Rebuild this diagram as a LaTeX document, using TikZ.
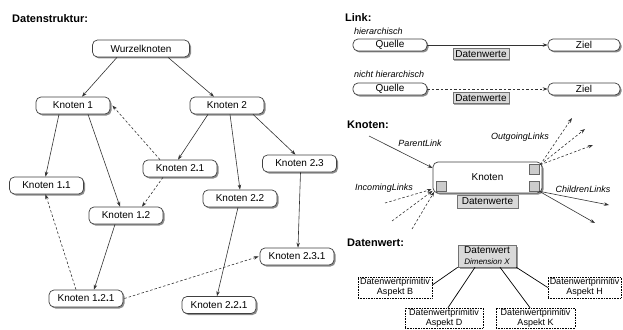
\documentclass[tikz,border=0pt]{standalone}
\usepackage{fontspec}
\setmainfont{Liberation Sans}
\usetikzlibrary{shadows,arrows.meta}
\newcommand\kdot{\textbf{.}}
\begin{document}
\begin{tikzpicture}[x=1pt,y=-1pt,
  kn/.style={draw=black!75, line width=0.7pt, rounded corners=5pt, fill=white, inner sep=0pt,
    minimum width=74pt, minimum height=17pt, font=\fontsize{10}{12}\selectfont,
    drop shadow={shadow xshift=1.5pt, shadow yshift=-1.5pt, fill=black!45, opacity=1}},
  dwbox/.style={draw=black!55, line width=0.6pt, fill=black!15, inner sep=0pt, minimum width=56pt,
    minimum height=11pt, font=\fontsize{10}{12}\selectfont,
    drop shadow={shadow xshift=1pt, shadow yshift=-1pt, fill=black!35, opacity=1}},
  arr/.style={draw=black!80, line width=0.6pt, -{Stealth[length=5pt,width=3.5pt]}},
  dsh/.style={arr, dash pattern=on 2.5pt off 2pt},
  title/.style={font=\bfseries\fontsize{11}{13}\selectfont, anchor=west, inner sep=0pt},
  lab/.style={font=\itshape\fontsize{9}{11}\selectfont, inner sep=0pt},
  sq/.style={draw=black!60, line width=0.6pt, fill=black!20, minimum size=10pt, inner sep=0pt},
  prim/.style={draw, line width=0.6pt, densely dotted, inner sep=0pt, align=center,
    font=\fontsize{9}{9.8}\selectfont},
  pline/.style={draw=black, line width=0.7pt}
]
\useasboundingbox (0,0) rectangle (623,329);

% ---------- Datenstruktur ----------
\node[title] (t1) at (12,19) {Datenstruktur:};
\node[kn, minimum width=97pt] (w) at (141,48.5) {Wurzelknoten};
\node[kn] (k1) at (73,105.5) {Knoten 1};
\node[kn] (k2) at (227,105.5) {Knoten 2};
\node[kn] (k21) at (180,168.5) {Knoten 2\kdot1};
\node[kn] (k23) at (299.5,163.5) {Knoten 2\kdot3};
\node[kn] (k11) at (46.5,185.5) {Knoten 1\kdot1};
\node[kn] (k12) at (126,215.5) {Knoten 1\kdot2};
\node[kn] (k22) at (240,198.5) {Knoten 2\kdot2};
\node[kn] (k231) at (297,256.5) {Knoten 2\kdot3\kdot1};
\node[kn] (k121) at (86,298.5) {Knoten 1\kdot2\kdot1};
\node[kn] (k221) at (219,305) {Knoten 2\kdot2\kdot1};

\draw[arr] ([xshift=-24pt]w.south) -- ([xshift=9pt]k1.north);
\draw[arr] ([xshift=27pt]w.south) -- ([xshift=-13pt]k2.north);
\draw[arr] ([xshift=-14pt]k1.south) -- ([xshift=-1pt]k11.north);
\draw[arr] ([xshift=15pt]k1.south) -- ([xshift=-6pt]k12.north);
\draw[arr] ([xshift=-19pt]k2.south) -- ([xshift=-2pt]k21.north);
\draw[arr] ([xshift=3pt]k2.south) -- (k22.north);
\draw[arr] ([xshift=26pt]k2.south) -- ([xshift=-4pt]k23.north);
\draw[dsh] ([xshift=-20pt]k21.north) -- ([xshift=2pt]k1.east);
\draw[dsh] ([xshift=-17pt]k21.south) -- ([xshift=16pt]k12.north);
\draw[arr] ([xshift=-11pt]k12.south) -- ([xshift=8pt]k121.north);
\draw[dsh] ([xshift=-10pt]k121.north) -- ([xshift=-1pt]k11.south);
\draw[dsh] ([xshift=1pt]k121.east) -- ([xshift=-1pt]k231.west);
\draw[arr] ([xshift=-2pt]k22.south) -- ([xshift=-2pt]k221.north);
\draw[arr] ([xshift=1pt]k23.south) -- ([xshift=1pt]k231.north);

% ---------- Link ----------
\node[title] (t2) at (345,18) {Link:};
\node[lab, anchor=west] (h1) at (354,31.5) {hierarchisch};
\node[kn, minimum height=12pt] (q1) at (390,45) {Quelle};
\node[kn, minimum width=72pt, minimum height=12pt] (z1) at (584,45) {Ziel};
\draw[arr] (q1.east) -- (z1.west);
\node[dwbox] (dw1) at (481,54) {Datenwerte};

\node[lab, anchor=west] (h2) at (354,74) {nicht hierarchisch};
\node[kn, minimum height=12pt] (q2) at (390,89) {Quelle};
\node[kn, minimum width=72pt, minimum height=12pt] (z2) at (584,89) {Ziel};
\draw[dsh] (q2.east) -- (z2.west);
\node[dwbox] (dw2) at (481,98) {Datenwerte};

% ---------- Knoten ----------
\node[title] (t3) at (347,125) {Knoten:};
\node[kn, minimum width=109pt, minimum height=31pt] (kn) at (487.5,177.5) {Knoten};
\node[sq] (sqL) at (441,186) {};
\node[sq] (sqRT) at (534,169) {};
\node[sq] (sqRB) at (534,186) {};
\node[dwbox, minimum width=61pt, minimum height=13pt] (dwk) at (487.5,201.5) {Datenwerte};

\coordinate (pl) at (369,136);
\draw[arr] (pl) -- ([yshift=9.5pt]kn.west);
\node[lab] (lpl) at (420,143) {ParentLink};

\coordinate (in1) at (385,203);
\coordinate (in2) at (392,221);
\coordinate (in3) at (412,229);
\draw[dsh] (in1) -- ([xshift=-4pt,yshift=2pt]sqL.south west);
\draw[dsh] (in2) -- ([xshift=-3pt,yshift=0.5pt]sqL.south west);
\draw[dsh] (in3) -- ([xshift=-1.5pt,yshift=-0.5pt]sqL.south west);
\node[lab] (lin) at (384,188) {IncomingLinks};

\coordinate (out1) at (572,118);
\coordinate (out2) at (585,129);
\coordinate (out3) at (593,145);
\draw[dsh] ([xshift=1pt,yshift=-1pt]sqRT.north east) -- (out1);
\draw[dsh] ([xshift=1pt,yshift=-1pt]sqRT.north east) -- (out2);
\draw[dsh] ([xshift=1pt,yshift=-1pt]sqRT.north east) -- (out3);
\node[lab] (lout) at (520,137) {OutgoingLinks};

\coordinate (ch1) at (609,205);
\coordinate (ch2) at (595,223);
\draw[arr] (sqRB.south east) -- (ch1);
\draw[arr] (sqRB.south east) -- (ch2);
\node[lab] (lch) at (583,189) {ChildrenLinks};

% ---------- Datenwert ----------
\node[title] (t4) at (347,243) {Datenwert:};
\node[draw=black!55, line width=0.6pt, fill=black!15, inner sep=0pt, minimum width=58pt, minimum height=22pt,
  align=center, drop shadow={shadow xshift=1.5pt, shadow yshift=-1.5pt, fill=black!40, opacity=1}]
  (dv) at (487,256) {{\fontsize{10}{11}\selectfont Datenwert}\\[-1pt]{\itshape\fontsize{8}{9}\selectfont Dimension X}};
\node[prim, minimum width=74pt, minimum height=21pt] (aB) at (395,287.5) {Datenwertprimitiv\\Aspekt B};
\node[prim, minimum width=78pt, minimum height=20pt] (aD) at (444,318) {Datenwertprimitiv\\Aspekt D};
\node[prim, minimum width=79pt, minimum height=20pt] (aK) at (535.5,318) {Datenwertprimitiv\\Aspekt K};
\node[prim, minimum width=73pt, minimum height=21pt] (aH) at (584.5,287.5) {Datenwertprimitiv\\Aspekt H};
\draw[pline] (dv.south west) -- ([yshift=2.5pt]aB.east);
\draw[pline] ([xshift=-12pt]dv.south) -- ([xshift=4pt]aD.north);
\draw[pline] ([xshift=13pt]dv.south) -- ([xshift=-5.5pt]aK.north);
\draw[pline] (dv.south east) -- (aH.west);
\end{tikzpicture}
\end{document}
